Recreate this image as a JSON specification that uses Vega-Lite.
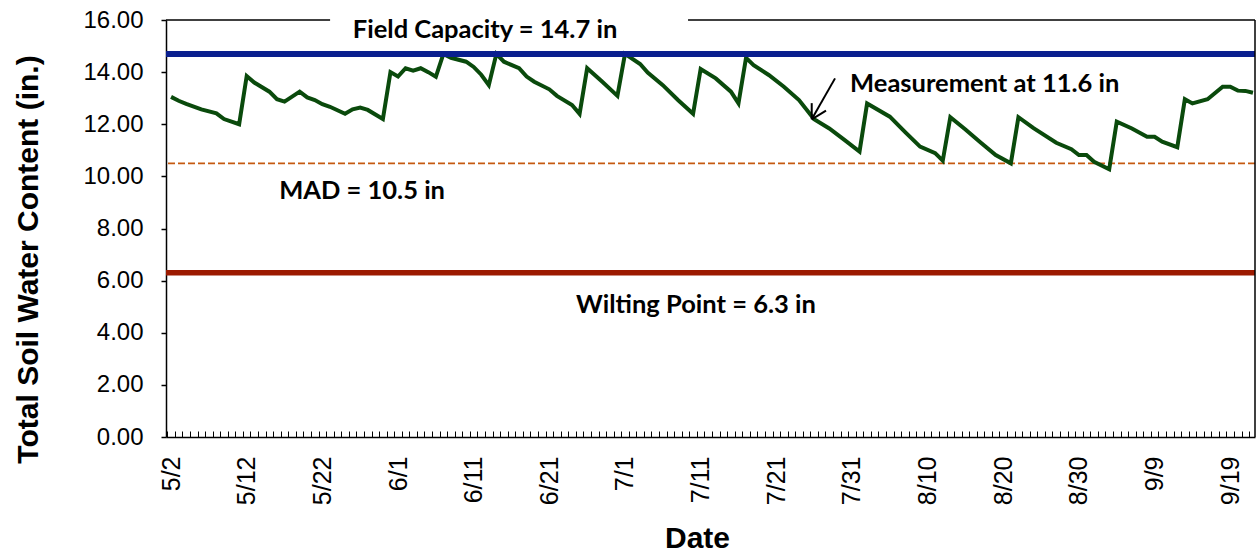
{
  "$schema": "https://vega.github.io/schema/vega-lite/v6.json",
  "width": 1089,
  "height": 417,
  "autosize": {"type": "none"},
  "padding": {"left": 166, "top": 20, "right": 4, "bottom": 117},
  "background": "white",
  "config": {"view": {"stroke": null}, "font": "Liberation Sans"},
  "datasets": {
    "soil": [
      {"date": "2013/05/02 12:00", "v": 13.05},
      {"date": "2013/05/03 12:00", "v": 12.9},
      {"date": "2013/05/04 12:00", "v": 12.78},
      {"date": "2013/05/06 12:00", "v": 12.57},
      {"date": "2013/05/08 12:00", "v": 12.42},
      {"date": "2013/05/09 12:00", "v": 12.2},
      {"date": "2013/05/11 12:00", "v": 12.0},
      {"date": "2013/05/12 12:00", "v": 13.85},
      {"date": "2013/05/13 12:00", "v": 13.6},
      {"date": "2013/05/15 12:00", "v": 13.25},
      {"date": "2013/05/16 12:00", "v": 12.96},
      {"date": "2013/05/17 12:00", "v": 12.87},
      {"date": "2013/05/19 12:00", "v": 13.25},
      {"date": "2013/05/20 12:00", "v": 13.03},
      {"date": "2013/05/21 12:00", "v": 12.93},
      {"date": "2013/05/22 12:00", "v": 12.77},
      {"date": "2013/05/23 12:00", "v": 12.67},
      {"date": "2013/05/25 12:00", "v": 12.4},
      {"date": "2013/05/26 12:00", "v": 12.57},
      {"date": "2013/05/27 12:00", "v": 12.64},
      {"date": "2013/05/28 12:00", "v": 12.55},
      {"date": "2013/05/30 12:00", "v": 12.2},
      {"date": "2013/05/31 12:00", "v": 14.0},
      {"date": "2013/06/01 12:00", "v": 13.83},
      {"date": "2013/06/02 12:00", "v": 14.15},
      {"date": "2013/06/03 12:00", "v": 14.06},
      {"date": "2013/06/04 12:00", "v": 14.15},
      {"date": "2013/06/05 12:00", "v": 14.0},
      {"date": "2013/06/06 12:00", "v": 13.82},
      {"date": "2013/06/07 12:00", "v": 14.7},
      {"date": "2013/06/08 12:00", "v": 14.55},
      {"date": "2013/06/10 12:00", "v": 14.4},
      {"date": "2013/06/11 12:00", "v": 14.2},
      {"date": "2013/06/12 12:00", "v": 13.9},
      {"date": "2013/06/13 12:00", "v": 13.5},
      {"date": "2013/06/14 12:00", "v": 14.7},
      {"date": "2013/06/15 12:00", "v": 14.4},
      {"date": "2013/06/17 12:00", "v": 14.15},
      {"date": "2013/06/18 12:00", "v": 13.83},
      {"date": "2013/06/19 12:00", "v": 13.63},
      {"date": "2013/06/21 12:00", "v": 13.34},
      {"date": "2013/06/22 12:00", "v": 13.09},
      {"date": "2013/06/24 12:00", "v": 12.74},
      {"date": "2013/06/25 12:00", "v": 12.4},
      {"date": "2013/06/26 12:00", "v": 14.15},
      {"date": "2013/06/28 12:00", "v": 13.63},
      {"date": "2013/06/30 12:00", "v": 13.09},
      {"date": "2013/07/01 12:00", "v": 14.7},
      {"date": "2013/07/03 12:00", "v": 14.31},
      {"date": "2013/07/04 12:00", "v": 13.98},
      {"date": "2013/07/06 12:00", "v": 13.5},
      {"date": "2013/07/08 12:00", "v": 12.93},
      {"date": "2013/07/10 12:00", "v": 12.4},
      {"date": "2013/07/11 12:00", "v": 14.12},
      {"date": "2013/07/13 12:00", "v": 13.76},
      {"date": "2013/07/15 12:00", "v": 13.25},
      {"date": "2013/07/16 12:00", "v": 12.8},
      {"date": "2013/07/17 12:00", "v": 14.55},
      {"date": "2013/07/18 12:00", "v": 14.27},
      {"date": "2013/07/20 12:00", "v": 13.89},
      {"date": "2013/07/22 12:00", "v": 13.44},
      {"date": "2013/07/24 12:00", "v": 12.93},
      {"date": "2013/07/26 12:00", "v": 12.19},
      {"date": "2013/07/28 12:00", "v": 11.84},
      {"date": "2013/07/30 12:00", "v": 11.4},
      {"date": "2013/08/01 12:00", "v": 10.95},
      {"date": "2013/08/02 12:00", "v": 12.8},
      {"date": "2013/08/05 12:00", "v": 12.29},
      {"date": "2013/08/07 12:00", "v": 11.71},
      {"date": "2013/08/09 12:00", "v": 11.14},
      {"date": "2013/08/11 12:00", "v": 10.89},
      {"date": "2013/08/12 12:00", "v": 10.6},
      {"date": "2013/08/13 12:00", "v": 12.27},
      {"date": "2013/08/15 12:00", "v": 11.8},
      {"date": "2013/08/17 12:00", "v": 11.3},
      {"date": "2013/08/19 12:00", "v": 10.82},
      {"date": "2013/08/21 12:00", "v": 10.5},
      {"date": "2013/08/22 12:00", "v": 12.27},
      {"date": "2013/08/24 12:00", "v": 11.85},
      {"date": "2013/08/27 12:00", "v": 11.29},
      {"date": "2013/08/29 12:00", "v": 11.04},
      {"date": "2013/08/30 12:00", "v": 10.82},
      {"date": "2013/08/31 12:00", "v": 10.82},
      {"date": "2013/09/01 12:00", "v": 10.56},
      {"date": "2013/09/03 12:00", "v": 10.27},
      {"date": "2013/09/04 12:00", "v": 12.1},
      {"date": "2013/09/06 12:00", "v": 11.84},
      {"date": "2013/09/08 12:00", "v": 11.52},
      {"date": "2013/09/09 12:00", "v": 11.52},
      {"date": "2013/09/10 12:00", "v": 11.33},
      {"date": "2013/09/12 12:00", "v": 11.12},
      {"date": "2013/09/13 12:00", "v": 12.96},
      {"date": "2013/09/14 12:00", "v": 12.8},
      {"date": "2013/09/16 12:00", "v": 12.96},
      {"date": "2013/09/18 12:00", "v": 13.44},
      {"date": "2013/09/19 12:00", "v": 13.44},
      {"date": "2013/09/20 12:00", "v": 13.29},
      {"date": "2013/09/21 12:00", "v": 13.28},
      {"date": "2013/09/22 12:00", "v": 13.21}
    ],
    "mad": [{"v": 10.5}],
    "wilting": [{"v": 6.3}],
    "fieldcap": [{"v": 14.7}],
    "border": [
      {"a": "2013/05/01 20:00", "b": "2013/05/23 12:30"},
      {"a": "2013/07/09 20:00", "b": "2013/09/22 18:30"}
    ],
    "rightBorder": [{"a": "2013/09/22 18:30", "ay": 0, "by": 16}],
    "arrow": [
      {"a": "2013/07/29 06:15", "ay": 13.76, "b": "2013/07/26 04:20", "by": 12.19},
      {"a": "2013/07/26 04:20", "ay": 12.81, "b": "2013/07/26 04:20", "by": 12.19},
      {"a": "2013/07/28 01:40", "ay": 12.52, "b": "2013/07/26 04:20", "by": 12.19}
    ],
    "labels": [
      {"date": "2013/06/13 00:00", "v": 15.31, "label": "Field Capacity = 14.7 in"},
      {"date": "2013/05/27 18:00", "v": 9.13, "label": "MAD = 10.5 in"},
      {"date": "2013/07/10 21:00", "v": 4.76, "label": "Wilting Point = 6.3 in"}
    ],
    "labelsLeft": [
      {"date": "2013/07/31 06:00", "v": 13.24, "label": "Measurement at 11.6 in"}
    ]
  },
  "layer": [
    {
      "data": {"name": "mad"},
      "mark": {"type": "rule", "color": "#c55a11", "strokeWidth": 1.6, "strokeDash": [7, 3]},
      "encoding": {
        "y": {"field": "v", "type": "quantitative", "scale": {"domain": [0, 16], "nice": false}}
      }
    },
    {
      "data": {"name": "wilting"},
      "mark": {"type": "rule", "color": "#9c1a00", "strokeWidth": 5.5, "strokeCap": "butt"},
      "encoding": {
        "y": {"field": "v", "type": "quantitative", "scale": {"domain": [0, 16], "nice": false}}
      }
    },
    {
      "data": {"name": "soil"},
      "mark": {"type": "line", "color": "#0a4a0c", "strokeWidth": 4, "strokeJoin": "miter"},
      "encoding": {
        "x": {
          "field": "date", "type": "temporal",
          "scale": {"domain": [{"year": 2013, "month": 5, "date": 1, "hours": 20}, {"year": 2013, "month": 9, "date": 22, "hours": 18, "minutes": 30}]},
          "axis": {
            "values": [
              {"year": 2013, "month": 5, "date": 2, "hours": 12},
              {"year": 2013, "month": 5, "date": 12, "hours": 12},
              {"year": 2013, "month": 5, "date": 22, "hours": 12},
              {"year": 2013, "month": 6, "date": 1, "hours": 12},
              {"year": 2013, "month": 6, "date": 11, "hours": 12},
              {"year": 2013, "month": 6, "date": 21, "hours": 12},
              {"year": 2013, "month": 7, "date": 1, "hours": 12},
              {"year": 2013, "month": 7, "date": 11, "hours": 12},
              {"year": 2013, "month": 7, "date": 21, "hours": 12},
              {"year": 2013, "month": 7, "date": 31, "hours": 12},
              {"year": 2013, "month": 8, "date": 10, "hours": 12},
              {"year": 2013, "month": 8, "date": 20, "hours": 12},
              {"year": 2013, "month": 8, "date": 30, "hours": 12},
              {"year": 2013, "month": 9, "date": 9, "hours": 12},
              {"year": 2013, "month": 9, "date": 19, "hours": 12}
            ],
            "format": "%-m/%-d",
            "labelAngle": -90,
            "labelFont": "Liberation Sans",
            "labelFontSize": 25,
            "labelColor": "black",
            "labelPadding": 19,
            "labelOverlap": false,
            "labelFlush": false,
            "ticks": false,
            "grid": false,
            "domain": true,
            "domainColor": "black",
            "domainWidth": 1.5,
            "title": "Date",
            "titleFont": "Liberation Sans",
            "titleFontSize": 30,
            "titleFontWeight": "bold",
            "titleColor": "black",
            "titleX": 531,
            "titleY": 110,
            "titleAlign": "center",
            "titleBaseline": "alphabetic"
          }
        },
        "y": {
          "field": "v", "type": "quantitative",
          "scale": {"domain": [0, 16], "nice": false},
          "axis": {
            "values": [0, 2, 4, 6, 8, 10, 12, 14, 16],
            "format": ".2f",
            "labelFont": "Liberation Sans",
            "labelFontSize": 24,
            "labelColor": "black",
            "labelPadding": 18,
            "tickSize": 5,
            "tickColor": "black",
            "tickWidth": 1.5,
            "grid": false,
            "domainColor": "black",
            "domainWidth": 1.5,
            "title": "Total Soil Water Content (in.)",
            "titleFont": "Liberation Sans",
            "titleFontSize": 30,
            "titleFontWeight": "bold",
            "titleColor": "black",
            "titleX": -129,
            "titleY": 239,
            "titleAlign": "center",
            "titleBaseline": "alphabetic"
          }
        }
      }
    },
    {
      "data": {"name": "fieldcap"},
      "mark": {"type": "rule", "color": "#0a1f8f", "strokeWidth": 6, "strokeCap": "butt"},
      "encoding": {
        "y": {"field": "v", "type": "quantitative", "scale": {"domain": [0, 16], "nice": false}}
      }
    },
    {
      "data": {"name": "border"},
      "mark": {"type": "rule", "color": "black", "strokeWidth": 1.5},
      "encoding": {
        "x": {
          "field": "a", "type": "temporal",
          "scale": {"domain": [{"year": 2013, "month": 5, "date": 1, "hours": 20}, {"year": 2013, "month": 9, "date": 22, "hours": 18, "minutes": 30}]},
          "axis": {
            "orient": "bottom",
            "tickCount": {"interval": "day", "step": 1},
            "labels": false,
            "ticks": true,
            "tickSize": -6,
            "tickColor": "black",
            "tickWidth": 1,
            "domain": false,
            "grid": false,
            "title": null
          }
        },
        "x2": {"field": "b"},
        "y": {"datum": 16, "type": "quantitative", "scale": {"domain": [0, 16], "nice": false}}
      }
    },
    {
      "data": {"name": "rightBorder"},
      "mark": {"type": "rule", "color": "black", "strokeWidth": 1.5},
      "encoding": {
        "x": {
          "field": "a", "type": "temporal",
          "scale": {"domain": [{"year": 2013, "month": 5, "date": 1, "hours": 20}, {"year": 2013, "month": 9, "date": 22, "hours": 18, "minutes": 30}]},
          "axis": null
        },
        "y": {"field": "ay", "type": "quantitative", "scale": {"domain": [0, 16], "nice": false}},
        "y2": {"field": "by"}
      }
    },
    {
      "data": {"name": "arrow"},
      "mark": {"type": "rule", "color": "black", "strokeWidth": 2},
      "encoding": {
        "x": {
          "field": "a", "type": "temporal",
          "scale": {"domain": [{"year": 2013, "month": 5, "date": 1, "hours": 20}, {"year": 2013, "month": 9, "date": 22, "hours": 18, "minutes": 30}]},
          "axis": null
        },
        "x2": {"field": "b"},
        "y": {"field": "ay", "type": "quantitative", "scale": {"domain": [0, 16], "nice": false}},
        "y2": {"field": "by"}
      }
    },
    {
      "data": {"name": "labels"},
      "mark": {"type": "text", "font": "Lato", "fontWeight": "bold", "fontSize": 25.5, "color": "black", "align": "center", "baseline": "alphabetic"},
      "encoding": {
        "x": {
          "field": "date", "type": "temporal",
          "scale": {"domain": [{"year": 2013, "month": 5, "date": 1, "hours": 20}, {"year": 2013, "month": 9, "date": 22, "hours": 18, "minutes": 30}]},
          "axis": null
        },
        "y": {"field": "v", "type": "quantitative", "scale": {"domain": [0, 16], "nice": false}},
        "text": {"field": "label"}
      }
    },
    {
      "data": {"name": "labelsLeft"},
      "mark": {"type": "text", "font": "Lato", "fontWeight": "bold", "fontSize": 25.5, "color": "black", "align": "left", "baseline": "alphabetic"},
      "encoding": {
        "x": {
          "field": "date", "type": "temporal",
          "scale": {"domain": [{"year": 2013, "month": 5, "date": 1, "hours": 20}, {"year": 2013, "month": 9, "date": 22, "hours": 18, "minutes": 30}]},
          "axis": null
        },
        "y": {"field": "v", "type": "quantitative", "scale": {"domain": [0, 16], "nice": false}},
        "text": {"field": "label"}
      }
    }
  ],
  "resolve": {"axis": {"x": "independent"}}
}
